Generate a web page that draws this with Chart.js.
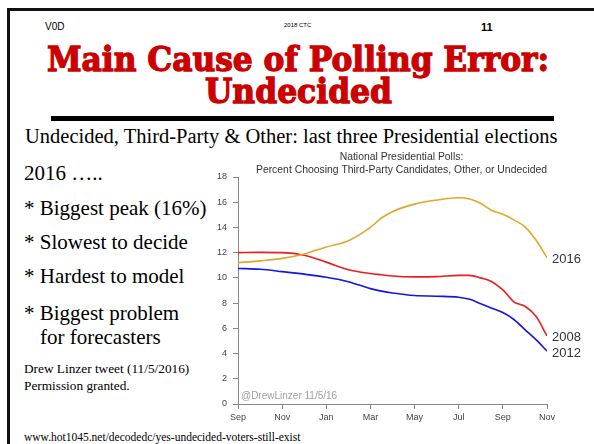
<!DOCTYPE html>
<html>
<head>
<meta charset="utf-8">
<script src="https://cdn.jsdelivr.net/npm/chart.js@4.4.1/dist/chart.umd.min.js"></script>
<style>
  html,body{margin:0;padding:0;background:#fff;}
  #slide{position:relative;width:594px;height:444px;overflow:hidden;background:#fff;}
  .abs{position:absolute;white-space:nowrap;}
  #btop{left:7px;top:8px;width:600px;height:3px;background:#111;}
  #bleft{left:7px;top:8px;width:3px;height:440px;background:#111;}
  #bar{left:51px;top:116px;width:503px;height:5px;background:#000;}
  .hdr{font-family:"Liberation Sans",Arial,sans-serif;color:#000;line-height:1;}
  .title{font-family:"DejaVu Serif",serif;font-weight:bold;color:#cc0000;font-size:33px;line-height:33px;transform-origin:0 0;-webkit-text-stroke:1.3px #cc0000;}
  .tnr{font-family:"Liberation Serif","Times New Roman",serif;color:#000;}
  #chartbox{position:absolute;left:200px;top:150px;width:394px;height:282px;}
</style>
</head>
<body>
<div id="slide">
  <div class="abs" id="btop"></div>
  <div class="abs" id="bleft"></div>
  <div class="abs hdr" style="left:45px;top:22px;font-size:10px;">V0D</div>
  <div class="abs hdr" style="left:284px;top:22px;font-size:6px;">2018 CTC</div>
  <div class="abs hdr" style="left:481px;top:22px;font-size:11px;font-weight:bold;">11</div>
  <div class="abs title fit" data-left="47" data-w="502" style="top:43px;">Main Cause of Polling Error:</div>
  <div class="abs title fit" data-left="205" data-w="187" style="top:75px;">Undecided</div>
  <div class="abs" id="bar"></div>
  <div class="abs tnr" style="left:25px;top:126px;font-size:20.5px;line-height:20px;">Undecided, Third-Party &amp; Other: last three Presidential elections</div>
  <div class="abs tnr" style="left:24px;top:163px;font-size:21px;line-height:21px;">2016 …..</div>
  <div class="abs tnr" style="left:24px;top:198px;font-size:21px;line-height:21px;">* Biggest peak (16%)</div>
  <div class="abs tnr" style="left:24px;top:232px;font-size:21px;line-height:21px;">* Slowest to decide</div>
  <div class="abs tnr" style="left:24px;top:266px;font-size:21px;line-height:21px;">* Hardest to model</div>
  <div class="abs tnr" style="left:24px;top:303px;font-size:21px;line-height:21px;">* Biggest problem</div>
  <div class="abs tnr" style="left:40px;top:327px;font-size:21px;line-height:21px;">for forecasters</div>
  <div class="abs tnr" style="left:24px;top:362px;font-size:13.3px;line-height:13px;">Drew Linzer tweet (11/5/2016)</div>
  <div class="abs tnr" style="left:24px;top:379px;font-size:13.3px;line-height:13px;">Permission granted.</div>
  <div class="abs tnr" style="left:24px;top:431px;font-size:11.5px;line-height:12px;">www.hot1045.net/decodedc/yes-undecided-voters-still-exist</div>
  <div id="chartbox"><canvas id="c"></canvas></div>
</div>
<script>
// fit title lines to measured widths
document.querySelectorAll('.fit').forEach(function(el){
  var w = el.getBoundingClientRect().width;
  var target = parseFloat(el.dataset.w);
  el.style.left = el.dataset.left + 'px';
  el.style.transform = 'scaleX(' + (target / w) + ')';
});

// ---- data ----
const monthLabels = ['Sep','Oct','Nov','Dec','Jan','Feb','Mar','Apr','May','Jun','Jul','Aug','Sep','Oct','Nov'];
const months   = [0,1,2,3,4,5,6,6.5,7,8,9,10,10.5,11,11.5,12,12.5,13,13.5,14];
const v2016    = [11.2,11.35,11.55,11.9,12.45,12.95,14.0,14.75,15.25,15.85,16.17,16.35,16.25,15.9,15.35,15.05,14.6,14.05,13.0,11.6];
const v2008    = [12.0,12.02,12.0,11.8,11.25,10.65,10.35,10.25,10.15,10.08,10.1,10.2,10.2,10.0,9.7,9.05,8.1,7.75,6.95,5.4];
const v2012    = [10.75,10.68,10.5,10.3,10.05,9.7,9.15,8.95,8.8,8.6,8.55,8.47,8.3,7.95,7.6,7.25,6.7,5.9,5.1,4.2];
const seriesNames = ['2016','2008','2012'];
const yTicks = [0,2,4,6,8,10,12,14,16,18];
const xTicks = [0,2,4,6,8,10,12,14];
const chartTitle = ['National Presidential Polls:', 'Percent Choosing Third-Party Candidates, Other, or Undecided'];

function pts(vals){ return months.map((m,i)=>({x:m,y:vals[i]})); }

const extras = {
  id:'extras',
  afterDraw(chart){
    const ctx = chart.ctx;
    const a = chart.chartArea;
    ctx.save();
    // title centred a little right of the plot centre
    ctx.font = '10.4px "Liberation Sans", Arial, sans-serif';
    ctx.fillStyle = '#333';
    ctx.textAlign = 'center';
    ctx.textBaseline = 'middle';
    const cx = (a.left + a.right) / 2 + 9;
    ctx.fillText(chartTitle[0], cx, a.top - 20);
    ctx.fillText(chartTitle[1], cx, a.top - 7);
    // end labels
    ctx.font = '13px "Liberation Sans", Arial, sans-serif';
    ctx.textAlign = 'left';
    chart.data.datasets.forEach((ds,i)=>{
      const meta = chart.getDatasetMeta(i);
      const p = meta.data[meta.data.length-1];
      ctx.fillText(ds.label, p.x + 5, p.y + 2);
    });
    // watermark
    ctx.font = '10px "Liberation Sans", Arial, sans-serif';
    ctx.fillStyle = '#a0a0a0';
    ctx.fillText('@DrewLinzer 11/5/16', a.left + 3, a.bottom - 8);
    ctx.restore();
  }
};

const colors = ['#e0a72e','#ee1c1c','#1515e6'];
const data = {
  datasets: [v2016, v2008, v2012].map((v,i)=>({
    label: seriesNames[i],
    data: pts(v),
    borderColor: colors[i],
    borderWidth: 1.6,
    pointRadius: 0,
    fill: false,
    tension: 0.4,
    cubicInterpolationMode: 'monotone'
  }))
};

new Chart(document.getElementById('c'), {
  type: 'line',
  data: data,
  options: {
    responsive: true,
    maintainAspectRatio: false,
    animation: false,
    layout: { padding: { left: 0, right: 47, top: 27, bottom: 0 } },
    plugins: {
      legend: { display: false },
      tooltip: { enabled: false },
      title: { display: false }
    },
    scales: {
      x: {
        type: 'linear',
        min: 0, max: 14,
        afterBuildTicks(axis){ axis.ticks = xTicks.map(v=>({value:v})); },
        afterFit(axis){ axis.height = 28; },
        ticks: {
          callback: (v)=> monthLabels[v],
          color: '#444',
          font: { family: '"Liberation Sans", Arial, sans-serif', size: 9 },
          padding: 3,
          maxRotation: 0
        },
        grid: { drawOnChartArea: false, tickLength: 5, color: '#888' },
        border: { color: '#888', width: 1 }
      },
      y: {
        min: 0, max: 18,
        afterBuildTicks(axis){ axis.ticks = yTicks.map(v=>({value:v})); },
        afterFit(axis){ axis.width = 38; },
        ticks: {
          color: '#444',
          font: { family: '"Liberation Sans", Arial, sans-serif', size: 9 },
          padding: 6
        },
        grid: { drawOnChartArea: false, tickLength: 5, color: '#888' },
        border: { color: '#888', width: 1 }
      }
    }
  },
  plugins: [extras]
});
</script>
</body>
</html>
